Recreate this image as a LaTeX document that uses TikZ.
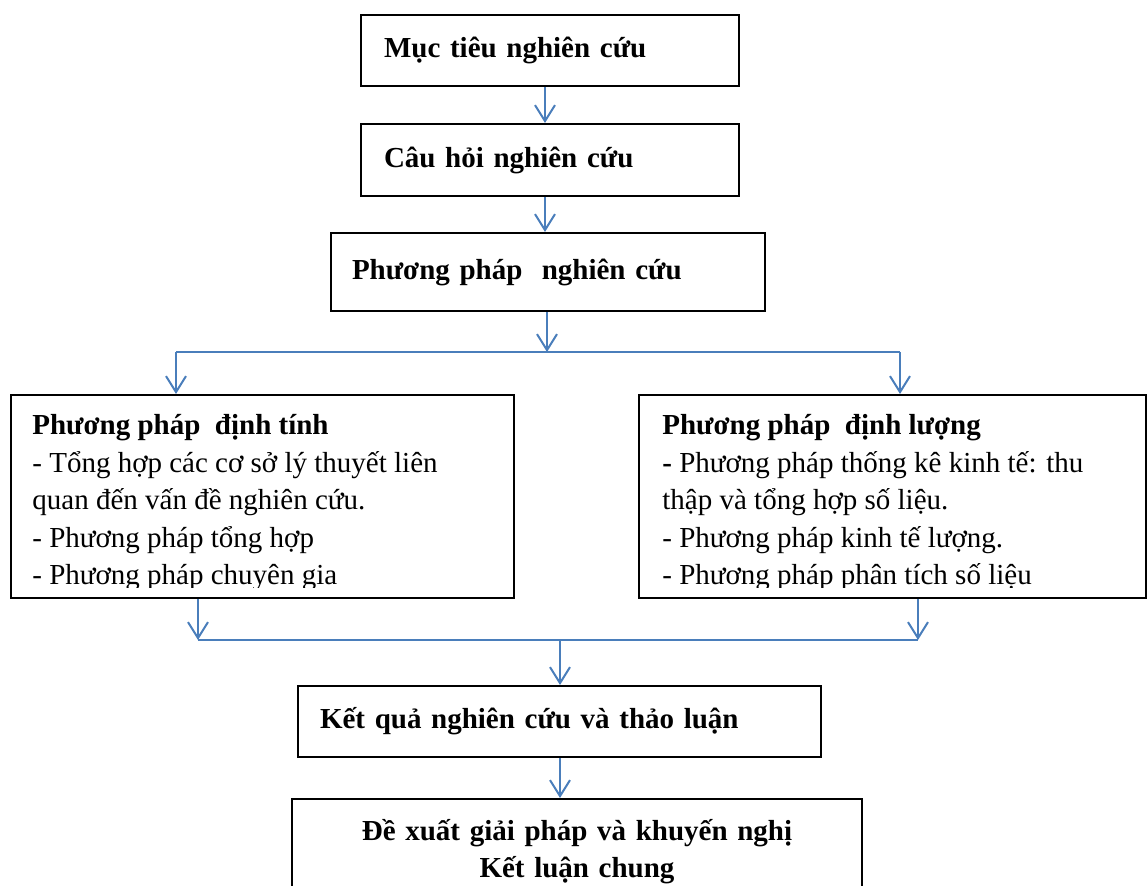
\documentclass[tikz,border=0pt]{standalone}
\usepackage{fontspec}
\setmainfont{Liberation Serif}
\usetikzlibrary{arrows.meta}
\definecolor{arrowblue}{RGB}{74,126,187}
\begin{document}
\begin{tikzpicture}[x=0.5pt,y=-0.5pt,
box/.style={draw,line width=1pt,inner sep=0pt},
txt/.style={inner sep=0pt,align=left,font=\fontsize{14.5}{18.75}\selectfont},
head/.style={draw,line width=1pt,align=left,inner ysep=0pt,font=\fontsize{14.5}{18.75}\selectfont\bfseries},
line/.style={arrowblue,line width=1pt},
arr/.style={line,-{Straight Barb[length=8pt,width=10pt,line width=1pt]}},
%every node/.style={scale=1},
]
\useasboundingbox (0,0) rectangle (1147,886);
\node[head,inner xsep=11.5pt,text width=166pt,minimum height=35.5pt] (muctieu) at (550,50.5) {Mục tiêu nghiên cứu};
\node[head,inner xsep=11.5pt,text width=166pt,minimum height=36pt] (cauhoi) at (550,160) {Câu hỏi nghiên cứu};
\node[head,inner xsep=10.5pt,text width=196pt,minimum height=39pt] (ppnc) at (548,272) {Phương pháp~ nghiên cứu};
% hai nhanh
\node[box,minimum width=251.5pt,minimum height=101.5pt] (dinhtinh) at (262.5,496.5) {};
\node[box,minimum width=253.5pt,minimum height=101.5pt] (dinhluong) at (892.5,496.5) {};
\begin{scope}
\clip (11,395) rectangle (1147,588);
\node[txt,anchor=north west] (tdinhtinh) at (32,414) {\textbf{Phương pháp~ định tính}\\
- Tổng hợp các cơ sở lý thuyết liên\\
quan đến vấn đề nghiên cứu.\\
- Phương pháp tổng hợp\\
- Phương pháp chuyên gia};
\node[txt,anchor=north west] (tdinhluong) at (662,414) {\textbf{Phương pháp~ định lượng}\\
\textbf{-} Phương pháp thống kê kinh tế: thu\\
thập và tổng hợp số liệu.\\
- Phương pháp kinh tế lượng.\\
- Phương pháp phân tích số liệu};
\end{scope}
\node[head,inner xsep=11pt,text width=239.5pt,minimum height=35.5pt] (ketqua) at (559.5,721.5) {Kết quả nghiên cứu và thảo luận};
\node[head,align=center,text width=285pt,inner xsep=0pt,minimum height=51pt,anchor=north] (dexuat) at (577,798)
{\raisebox{0pt}[12pt][0pt]{}Đề xuất giải pháp và khuyến nghị\\Kết luận chung\\[10pt]};
% duong noi
\coordinate (tach) at (547,352);
\coordinate (tachL) at (176,352);
\coordinate (tachR) at (900,352);
\coordinate (gopL) at (198,640);
\coordinate (gopR) at (918,640);
\coordinate (gop) at (560,640);
\draw[arr] ([xshift=-2.5pt]muctieu.south) -- ([xshift=-2.5pt]cauhoi.north);
\draw[arr] ([xshift=-2.5pt]cauhoi.south) -- ([xshift=-1.5pt]ppnc.north);
\draw[arr] (ppnc.south -| tach) -- (tach);
\draw[line] (tachL) -- (tachR);
\draw[arr] (tachL) -- (tachL |- dinhtinh.north);
\draw[arr] (tachR) -- (tachR |- dinhluong.north);
\draw[arr] (gopL |- dinhtinh.south) -- (gopL);
\draw[arr] (gopR |- dinhluong.south) -- (gopR);
\draw[line] (gopL) -- (gopR);
\draw[arr] (gop) -- (gop |- ketqua.north);
\draw[arr] (ketqua.south -| gop) -- (gop |- dexuat.north);
\end{tikzpicture}
\end{document}
